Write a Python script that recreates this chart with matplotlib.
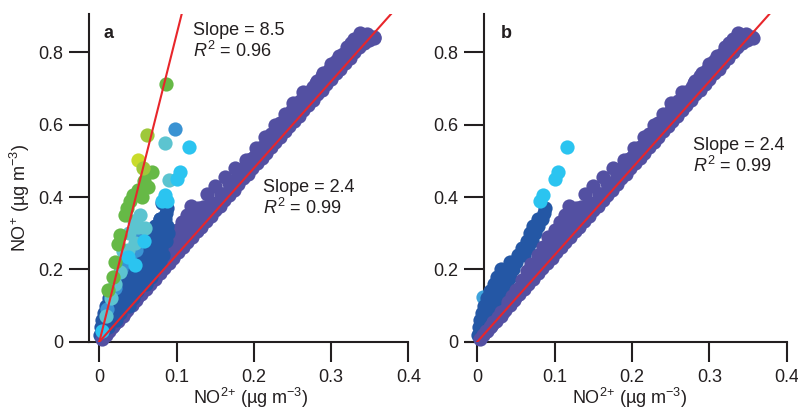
import matplotlib
matplotlib.use("Agg")
import matplotlib.pyplot as plt
import numpy as np

# =========================
# GLOBAL STYLE SETTINGS
# =========================
plt.rcParams.update({
    "font.family": ["Liberation Sans", "DejaVu Sans"],
    "font.size": 13,
    "mathtext.fontset": "custom",
    "mathtext.rm": "Liberation Sans",
    "mathtext.it": "Liberation Sans:italic",
    "mathtext.bf": "Liberation Sans:bold",
    "text.color": "#231F20",
    "xtick.color": "#231F20",
    "ytick.color": "#231F20",
})

# =========================
# DATA (NO2+, NO+) in ug m-3
# =========================
# purple band, shown in both panels
purple_pts = [
    # lower strand
    (0.003, 0.007), (0.008, 0.019), (0.013, 0.031), (0.018, 0.044), (0.024, 0.058),
    (0.030, 0.072), (0.036, 0.087), (0.042, 0.102), (0.048, 0.116), (0.054, 0.131),
    (0.060, 0.146), (0.066, 0.160), (0.072, 0.174), (0.078, 0.189), (0.084, 0.204),
    (0.090, 0.219), (0.096, 0.232), (0.102, 0.247), (0.108, 0.262), (0.114, 0.276),
    (0.120, 0.291), (0.126, 0.306), (0.132, 0.318), (0.138, 0.333), (0.144, 0.349),
    (0.150, 0.364), (0.156, 0.376), (0.162, 0.392), (0.168, 0.407), (0.174, 0.421),
    (0.180, 0.435), (0.186, 0.452), (0.192, 0.464), (0.198, 0.480), (0.204, 0.494),
    (0.210, 0.509), (0.216, 0.523), (0.222, 0.538), (0.228, 0.553), (0.234, 0.566),
    (0.240, 0.582), (0.246, 0.597), (0.252, 0.611), (0.258, 0.624), (0.264, 0.640),
    (0.270, 0.655), (0.276, 0.669), (0.282, 0.684), (0.288, 0.697), (0.294, 0.714),
    (0.300, 0.728), (0.306, 0.742), (0.312, 0.755), (0.318, 0.770), (0.324, 0.786),
    (0.330, 0.800), (0.336, 0.815), (0.342, 0.826), (0.349, 0.834), (0.356, 0.840),
    # second strand
    (0.011, 0.029), (0.016, 0.042), (0.027, 0.068), (0.033, 0.083), (0.045, 0.113),
    (0.057, 0.143), (0.069, 0.173), (0.081, 0.203), (0.093, 0.233), (0.105, 0.262),
    (0.117, 0.292), (0.129, 0.322), (0.141, 0.352), (0.153, 0.382), (0.165, 0.412),
    (0.177, 0.442), (0.189, 0.472), (0.201, 0.502), (0.213, 0.532), (0.225, 0.562),
    (0.237, 0.592), (0.249, 0.622), (0.261, 0.652), (0.273, 0.682), (0.285, 0.712),
    (0.297, 0.742), (0.309, 0.772), (0.321, 0.802), (0.333, 0.830), (0.345, 0.846),
    # middle strand
    (0.020, 0.052), (0.030, 0.078), (0.040, 0.103), (0.050, 0.128), (0.060, 0.155),
    (0.070, 0.180), (0.080, 0.206), (0.090, 0.232), (0.100, 0.258), (0.110, 0.284),
    (0.120, 0.310), (0.130, 0.334), (0.140, 0.360), (0.150, 0.384), (0.160, 0.410),
    (0.170, 0.436), (0.180, 0.462), (0.190, 0.487), (0.200, 0.512), (0.210, 0.538),
    (0.220, 0.566), (0.230, 0.590), (0.240, 0.614), (0.250, 0.641), (0.260, 0.665),
    (0.270, 0.690), (0.280, 0.716), (0.290, 0.742), (0.300, 0.768), (0.310, 0.790),
    (0.320, 0.815), (0.330, 0.838), (0.340, 0.845),
    # upper strand
    (0.020, 0.054), (0.030, 0.082), (0.040, 0.110), (0.050, 0.142), (0.058, 0.170),
    (0.064, 0.195), (0.070, 0.215), (0.078, 0.240), (0.085, 0.262), (0.092, 0.290),
    (0.100, 0.310), (0.107, 0.330), (0.113, 0.350), (0.119, 0.376), (0.128, 0.370),
    (0.139, 0.410), (0.150, 0.430), (0.163, 0.456), (0.176, 0.480), (0.190, 0.503),
    (0.203, 0.535), (0.215, 0.567), (0.228, 0.600), (0.240, 0.630), (0.251, 0.659),
    (0.264, 0.690), (0.277, 0.705), (0.288, 0.735), (0.297, 0.751), (0.306, 0.776),
    (0.316, 0.797), (0.326, 0.825), (0.337, 0.853), (0.347, 0.852), (0.355, 0.842),
    # fill between strands
    (0.045, 0.128), (0.055, 0.152), (0.065, 0.178), (0.075, 0.205), (0.085, 0.232),
    (0.095, 0.258), (0.105, 0.285), (0.115, 0.312), (0.125, 0.335), (0.135, 0.356),
    (0.145, 0.382), (0.157, 0.410), (0.168, 0.440), (0.183, 0.470), (0.196, 0.505),
    (0.208, 0.530), (0.222, 0.575), (0.234, 0.605), (0.246, 0.630), (0.258, 0.660),
    (0.270, 0.680), (0.282, 0.720), (0.294, 0.740), (0.303, 0.765), (0.314, 0.782),
    (0.325, 0.812), (0.109, 0.310), (0.116, 0.335), (0.124, 0.352), (0.134, 0.372),
]

# dark blue wedge, shown in both panels
navy_pts = [
    (0.0875, 0.370), (0.086, 0.355), (0.078, 0.340), (0.084, 0.340), (0.072, 0.320),
    (0.079, 0.320), (0.068, 0.300), (0.075, 0.300), (0.064, 0.280), (0.071, 0.280),
    (0.058, 0.260), (0.066, 0.260), (0.052, 0.240), (0.060, 0.240), (0.042, 0.220),
    (0.050, 0.220), (0.030, 0.200), (0.038, 0.200), (0.046, 0.200), (0.026, 0.180),
    (0.034, 0.180), (0.042, 0.180), (0.022, 0.160), (0.030, 0.160), (0.038, 0.160),
    (0.016, 0.140), (0.024, 0.140), (0.033, 0.140), (0.012, 0.120), (0.020, 0.120),
    (0.028, 0.120), (0.009, 0.100), (0.016, 0.100), (0.024, 0.100), (0.006, 0.080),
    (0.013, 0.080), (0.020, 0.080), (0.004, 0.060), (0.010, 0.060), (0.016, 0.060),
    (0.002, 0.040), (0.007, 0.040), (0.012, 0.040), (0.001, 0.020), (0.005, 0.020),
]

# light blue points on top of the wedge, both panels
cyan_pts = [(0.1156, 0.539), (0.1047, 0.470), (0.1004, 0.449), (0.0853, 0.405),
            (0.0815, 0.389)]

# extra points of panel a only
navy_a_pts = [
    (0.081, 0.383), (0.079, 0.340), (0.085, 0.340), (0.074, 0.320), (0.081, 0.320),
    (0.088, 0.320), (0.068, 0.300), (0.075, 0.300), (0.082, 0.300), (0.089, 0.300),
    (0.064, 0.280), (0.071, 0.280), (0.078, 0.280), (0.086, 0.280), (0.059, 0.260),
    (0.066, 0.260), (0.073, 0.260), (0.080, 0.260), (0.054, 0.240), (0.061, 0.240),
    (0.068, 0.240), (0.075, 0.240), (0.082, 0.240), (0.049, 0.220), (0.056, 0.220),
    (0.063, 0.220), (0.070, 0.220), (0.078, 0.220), (0.044, 0.200), (0.051, 0.200),
    (0.058, 0.200), (0.065, 0.200), (0.072, 0.200), (0.039, 0.180), (0.046, 0.180),
    (0.053, 0.180), (0.060, 0.180), (0.067, 0.180), (0.033, 0.160), (0.040, 0.160),
    (0.047, 0.160), (0.054, 0.160), (0.061, 0.160), (0.028, 0.140), (0.035, 0.140),
    (0.042, 0.140), (0.049, 0.140), (0.023, 0.120), (0.030, 0.120), (0.037, 0.120),
    (0.044, 0.120), (0.018, 0.100), (0.025, 0.100), (0.032, 0.100), (0.038, 0.100),
    (0.013, 0.080), (0.020, 0.080), (0.027, 0.080), (0.009, 0.060), (0.015, 0.060),
    (0.021, 0.060), (0.005, 0.040), (0.011, 0.040),
]
blue_a_pts = [(0.098, 0.588), (0.033, 0.221), (0.040, 0.240), (0.028, 0.200),
              (0.048, 0.255), (0.020, 0.150), (0.052, 0.290), (0.010, 0.090)]
teal_a_pts = [(0.085, 0.549), (0.0902, 0.447), (0.0527, 0.351), (0.0505, 0.318),
              (0.059, 0.314), (0.046, 0.272), (0.0375, 0.254), (0.0268, 0.194),
              (0.020, 0.160), (0.045, 0.335), (0.038, 0.300), (0.030, 0.250),
              (0.015, 0.120), (0.008, 0.070)]
cyan_a_pts = [(0.087, 0.390), (0.0375, 0.235), (0.046, 0.212), (0.058, 0.280),
              (0.004, 0.030)]
green_a_pts = [(0.0859, 0.712), (0.0678, 0.470), (0.0634, 0.429), (0.044, 0.406),
               (0.0548, 0.401), (0.040, 0.390), (0.033, 0.351), (0.0268, 0.295),
               (0.018, 0.180), (0.0117, 0.143), (0.024, 0.270), (0.020, 0.220),
               (0.050, 0.420), (0.058, 0.445), (0.036, 0.370)]
lime_a_pts = [(0.0613, 0.572), (0.057, 0.480)]
yellow_a_pts = [(0.0505, 0.503)]

# extra points of panel b only
light_b_pts = [(0.0315, 0.171), (0.0465, 0.221), (0.0078, 0.125), (0.0078, 0.079),
               (0.003, 0.010), (0.006, 0.040)]

# fits
slopes_a = [8.5, 2.4]
slopes_b = [2.4]

COLORS = {
    "purple": "#5350A2", "navy": "#2457A5", "blue": "#3A93D3", "cyan": "#2BC4F0",
    "teal": "#5CC4D0", "green": "#66B946", "lime": "#9EC83A", "yellow": "#C9DB2A",
    "light": "#3FA3DC",
}
MS = 105
INK = "#231F20"


def px_x(px):
    return px / 798


def px_y(py):
    return 1 - py / 411


def scatter(ax, pts, color):
    arr = np.array(pts)
    ax.scatter(arr[:, 0], arr[:, 1], s=MS, color=color, linewidths=0, clip_on=False, zorder=3)


def style_axes(ax, xmin):
    ax.set_xlim(xmin, 0.4)
    ax.set_ylim(0, 0.905)
    ax.spines["top"].set_visible(False)
    ax.spines["right"].set_visible(False)
    for s in ["left", "bottom"]:
        ax.spines[s].set_linewidth(1.5)
        ax.spines[s].set_color(INK)
        ax.spines[s].set_zorder(1)
    ax.set_xticks([0, 0.1, 0.2, 0.3, 0.4])
    ax.set_xticklabels(["0", "0.1", "0.2", "0.3", "0.4"])
    ax.set_yticks([0, 0.2, 0.4, 0.6, 0.8])
    ax.set_yticklabels(["0", "0.2", "0.4", "0.6", "0.8"])
    ax.tick_params(direction="out", length=14.5, width=1.5, labelsize=13)
    ax.tick_params(axis="x", pad=5)
    ax.tick_params(axis="y", pad=4)
    ax.set_axisbelow(True)
    ax.patch.set_alpha(0)


def fit_lines(ax, slopes):
    for s in slopes:
        ax.plot([0, 1.0 / s], [0, 1.0], color="#E8262B", lw=1.5, zorder=5)


fig = plt.figure(figsize=(7.98, 4.11), dpi=100)
ax_a = fig.add_axes([89.3 / 798, 69.2 / 411, 319 / 798, 327.3 / 411])
ax_b = fig.add_axes([465.7 / 798, 69.2 / 411, 321 / 798, 327.3 / 411])

# ---- panel a
scatter(ax_a, navy_pts, COLORS["navy"])
scatter(ax_a, purple_pts, COLORS["purple"])
scatter(ax_a, navy_a_pts, COLORS["navy"])
scatter(ax_a, blue_a_pts, COLORS["blue"])
scatter(ax_a, teal_a_pts, COLORS["teal"])
scatter(ax_a, cyan_pts, COLORS["cyan"])
scatter(ax_a, cyan_a_pts, COLORS["cyan"])
scatter(ax_a, green_a_pts, COLORS["green"])
scatter(ax_a, yellow_a_pts, COLORS["yellow"])
scatter(ax_a, lime_a_pts, COLORS["lime"])
fit_lines(ax_a, slopes_a)
style_axes(ax_a, -0.013)

# ---- panel b
scatter(ax_b, light_b_pts, COLORS["light"])
scatter(ax_b, navy_pts, COLORS["navy"])
scatter(ax_b, purple_pts, COLORS["purple"])
scatter(ax_b, cyan_pts, COLORS["cyan"])
fit_lines(ax_b, slopes_b)
style_axes(ax_b, -0.015)
ax_b.spines["left"].set_position(("data", 0.009))

# ---- texts
fig.text(px_x(103), px_y(38), "a", fontsize=13, fontweight="bold", va="baseline")
fig.text(px_x(500.5), px_y(38), "b", fontsize=13, fontweight="bold", va="baseline")

fig.text(px_x(193), px_y(35), "Slope = 8.5", va="baseline")
fig.text(px_x(193), px_y(57.3), r"$R^2$ = 0.96", va="baseline")
fig.text(px_x(263.3), px_y(191.7), "Slope = 2.4", va="baseline")
fig.text(px_x(263.3), px_y(214.3), r"$R^2$ = 0.99", va="baseline")
fig.text(px_x(693.3), px_y(150), "Slope = 2.4", va="baseline")
fig.text(px_x(693.3), px_y(172.3), r"$R^2$ = 0.99", va="baseline")

fig.text(px_x(20), px_y(198), r"NO$^{+}$ (µg m$^{-3}$)", rotation=90, ha="center", va="center")
fig.text(px_x(251), px_y(404), r"NO$^{2{+}}$ (µg m$^{-3}$)", ha="center", va="baseline")
fig.text(px_x(630), px_y(404), r"NO$^{2{+}}$ (µg m$^{-3}$)", ha="center", va="baseline")

fig.savefig("out.png", dpi=100)
